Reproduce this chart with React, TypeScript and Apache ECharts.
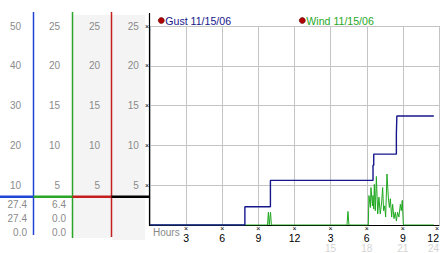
import React, { useEffect, useRef } from "react";
import * as echarts from "echarts";

// ---- data ----
const gustName = "Gust 11/15/06";
const windName = "Wind 11/15/06";
const hourTicks = [0, 3, 6, 9, 12, 15, 18, 21, 24];
const gustHours = [0, 7.88, 10.0, 18.52, 18.58, 20.46, 20.5, 23.57];
const gustValues = [0, 4.6, 11.2, 15.0, 17.8, 23.0, 27.4, 27.4];
const windHours = [
  0, 9.76, 9.83, 9.9, 9.94, 10.01, 10.08, 16.36, 16.44, 16.52,
  18.13, 18.18, 18.3, 18.35, 18.47, 18.52, 18.58, 18.63, 18.71, 18.8,
  18.91, 19.01, 19.12, 19.24, 19.32, 19.4, 19.49, 19.57, 19.68, 19.79,
  19.88, 19.96, 20.07, 20.15, 20.26, 20.37, 20.46, 20.56, 20.67, 20.79,
  20.87, 20.95, 21.04, 23.57,
];
const windValues = [
  0, 0, 1.6, 0, 0, 1.6, 0, 0, 1.7, 0,
  0, 3.7, 2.2, 4.7, 2.4, 3.7, 2.0, 5.1, 1.8, 6.1,
  1.4, 3.5, 1.4, 2.9, 4.7, 1.8, 2.4, 1.0, 6.4, 3.5,
  2.2, 3.3, 1.0, 2.6, 0.8, 1.6, 0.5, 1.6, 1.0, 2.6,
  1.8, 3.1, 0, 0,
];
const gustStats = ["27.4", "27.4", "0.0"];
const windStats = ["6.4", "0.0", "0.0"];
const gustAxisMax = 50;
const gustAxisInterval = 10;
const speedAxisMax = 25;
const speedAxisInterval = 5;

const FONT = "'Liberation Sans', Arial, sans-serif";
const GRAY = "#8a8a8a";
const NAVY = "#16168c";
const GREEN = "#1fa81f";
const BLUE = "#1f45d6";
const COLGREEN = "#2aa52a";
const RED = "#c41e1e";

export default function App() {
  const ref = useRef<HTMLDivElement>(null);
  useEffect(() => {
    if (!ref.current) return;
    const chart = echarts.init(ref.current, undefined, { renderer: "svg" });

    const sideAxis = (offset: number, margin: number, max: number, interval: number) => ({
      type: "value",
      position: "left",
      offset,
      min: 0,
      max,
      interval,
      axisLine: { show: false },
      axisTick: { show: false },
      splitLine: { show: false },
      axisLabel: {
        margin,
        color: GRAY,
        fontSize: 10,
        fontFamily: FONT,
        formatter: (v: number) => (v === 0 ? "" : String(v)),
      },
    });

    const statTexts: any[] = [];
    const rowsY = [204, 218, 232];
    gustStats.forEach((s, i) =>
      statTexts.push({
        type: "text",
        x: 27,
        y: rowsY[i],
        style: { text: s, fill: GRAY, font: `10px ${FONT}`, textAlign: "right", textVerticalAlign: "middle" },
      })
    );
    windStats.forEach((s, i) =>
      statTexts.push({
        type: "text",
        x: 66,
        y: rowsY[i],
        style: { text: s, fill: GRAY, font: `10px ${FONT}`, textAlign: "right", textVerticalAlign: "middle" },
      })
    );

    const vline = (x: number, y1: number, y2: number, color: string, w = 1.5) => ({
      type: "line",
      shape: { x1: x, y1, x2: x, y2 },
      style: { stroke: color, lineWidth: w },
      z: 10,
    });
    const hline = (x1: number, x2: number, color: string) => ({
      type: "line",
      shape: { x1, y1: 196.8, x2, y2: 196.8 },
      style: { stroke: color, lineWidth: 2.5 },
      z: 11,
    });

    const legendBase = {
      top: 15,
      padding: 0,
      icon: "circle",
      itemWidth: 6,
      itemHeight: 6,
      itemStyle: { color: "#b00000", borderColor: "#5a0000", borderWidth: 0.6 },
    };

    const option: any = {
      animation: false,
      backgroundColor: "#ffffff",
      grid: { left: 150, right: 2.5, top: 26, bottom: 27, containLabel: false },
      legend: [
        {
          ...legendBase,
          left: 158,
          textStyle: { fontSize: 10.6, fontFamily: FONT, color: NAVY, padding: [0, 0, 0, -4] },
          data: [gustName],
        },
        {
          ...legendBase,
          left: 299,
          textStyle: { fontSize: 10.6, fontFamily: FONT, color: GREEN, padding: [0, 0, 0, -4] },
          data: [windName],
        },
      ],
      xAxis: {
        type: "value",
        min: hourTicks[0],
        max: hourTicks[hourTicks.length - 1],
        interval: 3,
        axisLine: { show: true, lineStyle: { color: "#000", width: 1 } },
        axisTick: { show: false },
        splitLine: { show: true, lineStyle: { color: "#c4c4c4", width: 1 } },
        axisLabel: {
          margin: 0,
          alignMaxLabel: "right",
          fontFamily: FONT,
          formatter: (v: number) => {
            if (v === 0) return "";
            if (v <= 12) return `{m|×}\n{h|${v}}`;
            return `{m|×}\n{h|${v - 12}}\n{f|${v}}`;
          },
          rich: {
            m: { fontSize: 7, lineHeight: 7, color: "#000", fontFamily: FONT },
            h: { fontSize: 10.5, lineHeight: 11, color: "#000", fontFamily: FONT },
            f: { fontSize: 10, lineHeight: 10, color: "#d4d4d4", fontFamily: FONT },
          },
        },
      },
      yAxis: [
        {
          type: "value",
          position: "left",
          offset: 0,
          min: 0,
          max: speedAxisMax,
          interval: speedAxisInterval,
          axisLine: { show: false },
          axisTick: { show: false },
          splitLine: { show: true, lineStyle: { color: "#c4c4c4", width: 1 } },
          axisLabel: {
            margin: 1,
            formatter: (v: number) => (v === 0 ? "" : `{v|${v}}{m|×}`),
            rich: {
              v: { color: GRAY, fontSize: 10, fontFamily: FONT },
              m: { color: "#000", fontSize: 7, fontFamily: FONT, padding: [0, 0, 0, 6] },
            },
          },
        },
        sideAxis(117, 12, gustAxisMax, gustAxisInterval),
        sideAxis(78, 12, speedAxisMax, speedAxisInterval),
        sideAxis(39, 11, speedAxisMax, speedAxisInterval),
      ],
      graphic: [
        { type: "rect", shape: { x: 73, y: 15, width: 38, height: 223 }, style: { fill: "#f4f4f4" }, z: -10 },
        { type: "rect", shape: { x: 112, y: 15, width: 33, height: 225 }, style: { fill: "#f4f4f4" }, z: -10 },
        vline(33.5, 12, 235, BLUE),
        vline(72.5, 12, 238, COLGREEN),
        vline(111.5, 12, 237, RED),
        vline(149.5, 13, 226, "#000", 1.2),
        hline(0, 33.5, BLUE),
        hline(33.5, 72.5, COLGREEN),
        hline(72.5, 111.5, RED),
        hline(111.5, 149.5, "#000"),
        ...statTexts,
        {
          type: "text",
          x: 153,
          y: 232,
          style: { text: "Hours", fill: GRAY, font: `10px ${FONT}`, textVerticalAlign: "middle" },
        },
      ],
      series: [
        {
          name: windName,
          type: "line",
          yAxisIndex: 0,
          showSymbol: false,
          symbol: "none",
          data: windHours.map((h, i) => [h, windValues[i]]),
          lineStyle: { color: GREEN, width: 1 },
          itemStyle: { color: GREEN },
          z: 3,
        },
        {
          name: gustName,
          type: "line",
          yAxisIndex: 1,
          step: "end",
          showSymbol: false,
          symbol: "none",
          data: gustHours.map((h, i) => [h, gustValues[i]]),
          lineStyle: { color: NAVY, width: 1.4 },
          itemStyle: { color: NAVY },
          z: 4,
        },
      ],
    };
    chart.setOption(option);
    return () => chart.dispose();
  }, []);

  return <div ref={ref} style={{ position: "fixed", left: 0, top: 0, width: 442, height: 253 }} />;
}
